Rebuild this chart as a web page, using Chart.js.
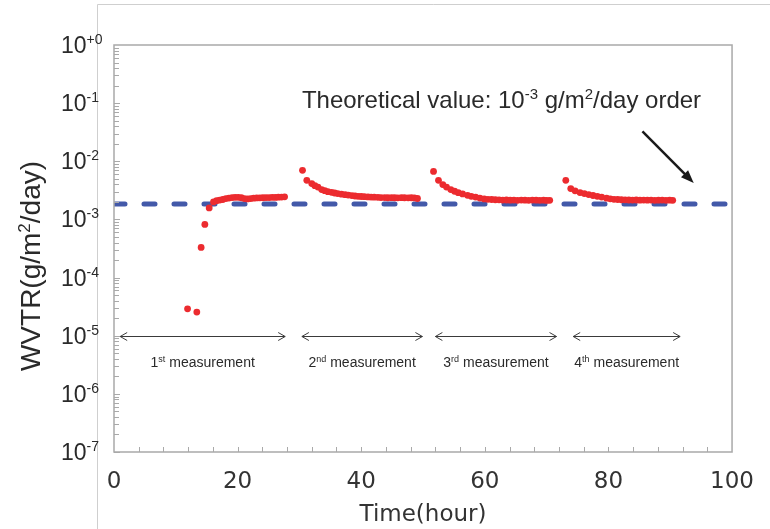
<!DOCTYPE html>
<html>
<head>
<meta charset="utf-8">
<script src="https://cdn.jsdelivr.net/npm/chart.js@4.4.0/dist/chart.umd.min.js"></script>
<style>
  html, body { margin: 0; padding: 0; background: #fff; }
  canvas { display: block; }
</style>
</head>
<body>
<canvas id="chart" width="770" height="529"></canvas>
<script>
const run1Time = [11.9, 13.4, 14.1, 14.7, 15.4, 16.1, 16.6, 17.1, 17.6, 18.1, 18.6, 19.1, 19.6, 20.1, 20.6,
                  21.1, 21.6, 22.1, 22.6, 23.1, 23.6, 24.1, 24.6, 25.1, 25.6, 26.1, 26.6, 27.1, 27.6];
const run1Wvtr = [2.9e-5, 2.55e-5, 3.3e-4, 8.2e-4, 1.58e-3, 2.0e-3, 2.1e-3, 2.15e-3, 2.2e-3, 2.28e-3, 2.33e-3, 2.38e-3, 2.4e-3, 2.4e-3, 2.36e-3,
                  2.28e-3, 2.25e-3, 2.28e-3, 2.32e-3, 2.34e-3, 2.35e-3, 2.36e-3, 2.38e-3, 2.38e-3, 2.4e-3, 2.39e-3, 2.41e-3, 2.42e-3, 2.45e-3];

const run2Time = [30.5, 31.2, 32.0, 32.5, 33.0, 33.6, 34.1, 34.6, 35.2, 35.7, 36.2, 36.8, 37.4, 37.9, 38.5, 39.0, 39.5,
                  40.0, 40.5, 41.1, 41.6, 42.1, 42.7, 43.2, 43.8, 44.3, 44.9, 45.4, 45.9, 46.5, 47.0, 47.6, 48.1, 48.6, 49.1];
const run2Wvtr = [7.0e-3, 4.7e-3, 4.13e-3, 3.8e-3, 3.6e-3, 3.26e-3, 3.12e-3, 3.0e-3, 2.92e-3, 2.85e-3, 2.78e-3, 2.72e-3, 2.67e-3, 2.62e-3, 2.57e-3, 2.53e-3, 2.5e-3,
                  2.48e-3, 2.46e-3, 2.44e-3, 2.42e-3, 2.41e-3, 2.4e-3, 2.38e-3, 2.38e-3, 2.36e-3, 2.37e-3, 2.36e-3, 2.35e-3, 2.37e-3, 2.36e-3, 2.35e-3, 2.36e-3, 2.34e-3, 2.29e-3];

const run3Time = [51.7, 52.5, 53.2, 53.8, 54.5, 55.1, 55.7, 56.4, 57.2, 57.8, 58.5, 59.2, 59.9, 60.5, 61.1, 61.7, 62.3,
                  62.9, 63.5, 64.1, 64.7, 65.3, 65.9, 66.5, 67.1, 67.7, 68.3, 68.9, 69.5, 70.0, 70.5];
const run3Wvtr = [6.7e-3, 4.7e-3, 3.97e-3, 3.6e-3, 3.26e-3, 3.05e-3, 2.88e-3, 2.75e-3, 2.6e-3, 2.5e-3, 2.42e-3, 2.33e-3, 2.25e-3, 2.22e-3, 2.2e-3, 2.18e-3, 2.17e-3,
                  2.15e-3, 2.16e-3, 2.14e-3, 2.15e-3, 2.13e-3, 2.15e-3, 2.14e-3, 2.13e-3, 2.15e-3, 2.14e-3, 2.13e-3, 2.14e-3, 2.12e-3, 2.13e-3];

const run4Time = [73.1, 73.9, 74.6, 75.4, 76.1, 76.8, 77.5, 78.2, 78.9, 79.7, 80.3, 80.9, 81.5, 82.1, 82.7, 83.3,
                  83.9, 84.5, 85.1, 85.7, 86.3, 86.9, 87.5, 88.1, 88.7, 89.3, 89.9, 90.4];
const run4Wvtr = [4.7e-3, 3.4e-3, 3.1e-3, 2.9e-3, 2.78e-3, 2.68e-3, 2.58e-3, 2.5e-3, 2.42e-3, 2.32e-3, 2.26e-3, 2.22e-3, 2.2e-3, 2.18e-3, 2.17e-3, 2.16e-3,
                  2.15e-3, 2.16e-3, 2.14e-3, 2.15e-3, 2.14e-3, 2.15e-3, 2.13e-3, 2.14e-3, 2.15e-3, 2.13e-3, 2.14e-3, 2.13e-3];

const theoryWvtr = 1.85e-3;
const theoryRange = [0, 100];

const xTickValues = [0, 20, 40, 60, 80, 100];
const yDecades = [0, -1, -2, -3, -4, -5, -6, -7];
const yExpLabels = ['+0', '-1', '-2', '-3', '-4', '-5', '-6', '-7'];

// measurement spans (hours) and their labels
const spanStart = [1.0, 30.4, 52.0, 74.3];
const spanEnd = [27.7, 49.9, 71.6, 91.6];
const spanNum = ['1', '2', '3', '4'];
const spanSuffix = ['st', 'nd', 'rd', 'th'];
const spanLevel = 1e-5;

const points = [];
[[run1Time, run1Wvtr], [run2Time, run2Wvtr], [run3Time, run3Wvtr], [run4Time, run4Wvtr]].forEach(([t, w]) => {
  t.forEach((h, i) => points.push({ x: h, y: w[i] }));
});

const SANS = '"Liberation Sans", Arial, sans-serif';

// text with superscripts: parts = [[text, isSup], ...]
function measureParts(ctx, parts, size, supSize) {
  let w = 0;
  parts.forEach(([s, sup]) => {
    ctx.font = (sup ? supSize : size) + 'px ' + SANS;
    w += ctx.measureText(s).width;
  });
  return w;
}
function drawParts(ctx, parts, x, y, size, supSize, raise) {
  parts.forEach(([s, sup]) => {
    ctx.font = (sup ? supSize : size) + 'px ' + SANS;
    ctx.fillText(s, x, sup ? y - raise : y);
    x += ctx.measureText(s).width;
  });
}

function arrowHead(ctx, x, y, dir, len, half) {
  ctx.beginPath();
  ctx.moveTo(x - dir * len, y - half);
  ctx.lineTo(x, y);
  ctx.lineTo(x - dir * len, y + half);
  ctx.stroke();
}

const decorations = {
  id: 'decorations',
  beforeDraw(chart) {
    const ctx = chart.ctx;
    ctx.save();
    ctx.strokeStyle = '#cfcfcf';
    ctx.lineWidth = 1;
    ctx.beginPath();
    ctx.moveTo(97.5, 529);
    ctx.lineTo(97.5, 4.5);
    ctx.lineTo(770, 4.5);
    ctx.stroke();
    ctx.restore();
  },
  afterDraw(chart) {
    const ctx = chart.ctx;
    const a = chart.chartArea;
    const x = chart.scales.x;
    const y = chart.scales.y;
    ctx.save();

    // plot box
    ctx.strokeStyle = '#a9a9a9';
    ctx.lineWidth = 1.5;
    ctx.strokeRect(a.left, a.top, a.right - a.left, a.bottom - a.top);

    // inward ticks
    ctx.lineWidth = 1;
    ctx.beginPath();
    for (let d = -7; d < 0; d++) {
      for (let m = 1; m < 10; m++) {
        const py = Math.round(y.getPixelForValue(m * Math.pow(10, d))) + 0.5;
        ctx.moveTo(a.left, py);
        ctx.lineTo(a.left + (m === 1 ? 6 : 5), py);
      }
    }
    for (let t = 4; t < 100; t += 4) {
      const px = Math.round(x.getPixelForValue(t)) + 0.5;
      ctx.moveTo(px, a.bottom);
      ctx.lineTo(px, a.bottom - 5);
    }
    ctx.stroke();

    // y tick labels 10^n
    ctx.fillStyle = '#2a2a2a';
    ctx.textBaseline = 'alphabetic';
    ctx.textAlign = 'left';
    yDecades.forEach((d, i) => {
      const py = y.getPixelForValue(Math.pow(10, d));
      drawParts(ctx, [['10', false], [yExpLabels[i], true]], 61, py + 8, 23, 14, 9);
    });

    // y axis title
    ctx.save();
    ctx.translate(40, 266);
    ctx.rotate(-Math.PI / 2);
    const titleParts = [['WVTR(g/m', false], ['2', true], ['/day)', false]];
    const tw = measureParts(ctx, titleParts, 28, 17);
    drawParts(ctx, titleParts, -tw / 2, 0, 28, 17, 10);
    ctx.restore();

    // measurement spans
    ctx.strokeStyle = '#3a3a3a';
    ctx.fillStyle = '#2a2a2a';
    ctx.lineWidth = 1;
    const sy = Math.round(y.getPixelForValue(spanLevel)) + 0.5;
    spanStart.forEach((s, i) => {
      const x0 = x.getPixelForValue(s);
      const x1 = x.getPixelForValue(spanEnd[i]);
      ctx.beginPath();
      ctx.moveTo(x0, sy);
      ctx.lineTo(x1, sy);
      ctx.stroke();
      arrowHead(ctx, x0, sy, -1, 7, 4);
      arrowHead(ctx, x1, sy, 1, 7, 4);
      const parts = [[spanNum[i], false], [spanSuffix[i], true], [' measurement', false]];
      const w = measureParts(ctx, parts, 14, 9);
      drawParts(ctx, parts, (x0 + x1) / 2 - w / 2, sy + 30, 14, 9, 5);
    });

    // theoretical value note
    const noteParts = [['Theoretical value: 10', false], ['-3', true], [' g/m', false], ['2', true], ['/day order', false]];
    drawParts(ctx, noteParts, x.getPixelForValue(30.4), 108, 24, 15, 9);

    // arrow to the dashed line
    const ax0 = x.getPixelForValue(85.5), ay0 = y.getPixelForValue(0.0326);
    const ax1 = x.getPixelForValue(93.8), ay1 = y.getPixelForValue(4.24e-3);
    const ang = Math.atan2(ay1 - ay0, ax1 - ax0);
    ctx.strokeStyle = '#1a1a1a';
    ctx.fillStyle = '#1a1a1a';
    ctx.lineWidth = 2.5;
    ctx.beginPath();
    ctx.moveTo(ax0, ay0);
    ctx.lineTo(ax1 - 10 * Math.cos(ang), ay1 - 10 * Math.sin(ang));
    ctx.stroke();
    ctx.beginPath();
    ctx.moveTo(ax1, ay1);
    ctx.lineTo(ax1 - 13 * Math.cos(ang) + 5 * Math.sin(ang), ay1 - 13 * Math.sin(ang) - 5 * Math.cos(ang));
    ctx.lineTo(ax1 - 13 * Math.cos(ang) - 5 * Math.sin(ang), ay1 - 13 * Math.sin(ang) + 5 * Math.cos(ang));
    ctx.closePath();
    ctx.fill();

    ctx.restore();
  }
};

new Chart(document.getElementById('chart'), {
  type: 'scatter',
  data: {
    datasets: [
      {
        label: 'WVTR',
        data: points,
        order: 0,
        pointRadius: 3.4,
        pointBorderWidth: 0,
        pointBackgroundColor: '#ec2b2f',
        backgroundColor: '#ec2b2f',
        showLine: false
      },
      {
        type: 'line',
        label: 'Theoretical',
        data: theoryRange.map(h => ({ x: h, y: theoryWvtr })),
        order: 1,
        borderColor: '#4359a9',
        borderWidth: 5,
        borderDash: [11, 19],
        borderCapStyle: 'round',
        pointRadius: 0,
        fill: false
      }
    ]
  },
  options: {
    responsive: false,
    animation: false,
    devicePixelRatio: 1,
    layout: { padding: { top: 45, right: 33, left: 0, bottom: 0 } },
    plugins: { legend: { display: false }, tooltip: { enabled: false } },
    scales: {
      x: {
        type: 'linear',
        min: 0,
        max: 100,
        grid: { display: false, drawTicks: false },
        border: { display: false },
        afterFit: s => { s.height = 77; },
        afterBuildTicks: s => { s.ticks = xTickValues.map(v => ({ value: v })); },
        ticks: {
          font: { family: '"DejaVu Sans"', size: 23 },
          color: '#333',
          padding: 16,
          maxRotation: 0,
          autoSkip: false
        },
        title: {
          display: true,
          text: 'Time(hour)',
          font: { family: '"DejaVu Sans"', size: 23 },
          color: '#333',
          padding: { top: 0, bottom: 0 }
        }
      },
      y: {
        type: 'logarithmic',
        min: 1e-7,
        max: 1,
        grid: { display: false, drawTicks: false },
        border: { display: false },
        ticks: { display: false },
        afterFit: s => { s.width = 114; }
      }
    }
  },
  plugins: [decorations]
});
</script>
</body>
</html>
